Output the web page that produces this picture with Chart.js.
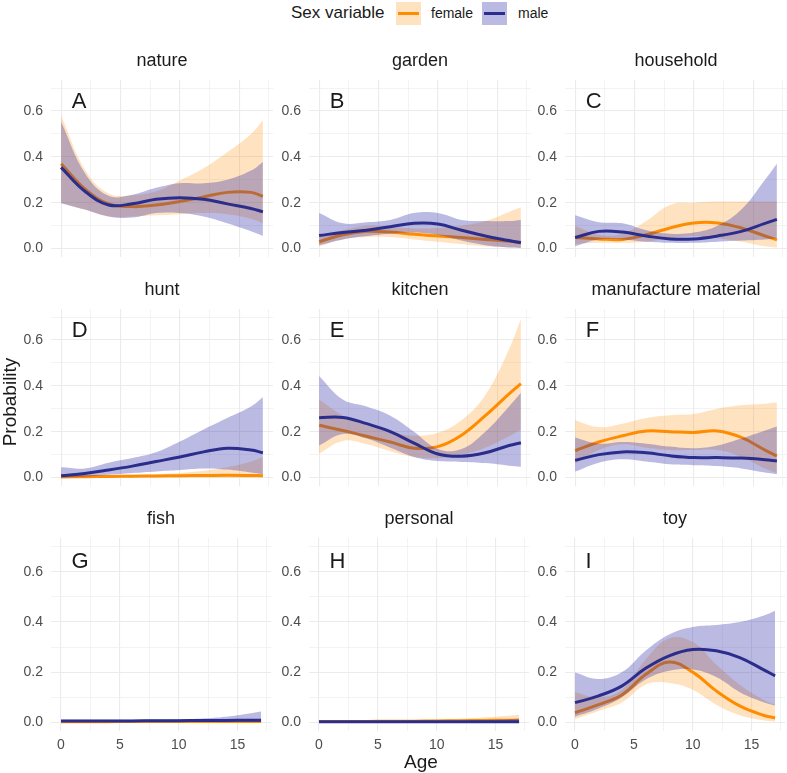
<!DOCTYPE html>
<html>
<head>
<meta charset="utf-8">
<script src="https://cdn.jsdelivr.net/npm/chart.js@4.4.1/dist/chart.umd.min.js"></script>
<style>
body { margin: 0; background: #fff; font-family: "Liberation Sans", Arial, sans-serif; }
#wrap { position: relative; width: 787px; height: 773px; overflow: hidden; }
#wrap canvas { position: absolute; }
.lab { position: absolute; white-space: nowrap; color: #1a1a1a; z-index: 2; }
.key { position: absolute; width: 25px; height: 23px; top: 2px; }
.key i { position: absolute; left: 2px; right: 2px; top: 10px; height: 3px; }
</style>
</head>
<body>
<div id="wrap">
  <div class="lab" style="left:291px;top:3px;font-size:17px;line-height:20px;">Sex variable</div>
  <div class="key" style="left:396px;background:rgba(255,140,0,0.25);"><i style="background:#ff8c00"></i></div>
  <div class="lab" style="left:431px;top:5px;font-size:14px;line-height:16px;">female</div>
  <div class="key" style="left:482px;background:rgba(45,40,165,0.32);"><i style="background:#2b2d8c"></i></div>
  <div class="lab" style="left:518px;top:5px;font-size:14px;line-height:16px;">male</div>
  <div class="lab" style="left:404px;top:751px;font-size:19px;line-height:22px;">Age</div>
  <div class="lab" style="left:-40px;top:391px;width:100px;text-align:center;font-size:19px;line-height:22px;transform:rotate(-90deg);">Probability</div>
</div>
<script>
const ages = [0, 2, 4, 6, 8, 10, 12, 14, 16, 17];

const natureF   = [0.37, 0.26, 0.195, 0.183, 0.19, 0.205, 0.225, 0.245, 0.245, 0.228];
const natureFLo = [0.20, 0.17, 0.14, 0.14, 0.145, 0.15, 0.155, 0.15, 0.13, 0.11];
const natureFHi = [0.58, 0.345, 0.24, 0.233, 0.25, 0.297, 0.35, 0.42, 0.50, 0.56];
const natureM   = [0.354, 0.25, 0.19, 0.195, 0.215, 0.222, 0.215, 0.195, 0.175, 0.16];
const natureMLo = [0.198, 0.17, 0.14, 0.135, 0.155, 0.155, 0.14, 0.11, 0.075, 0.055];
const natureMHi = [0.553, 0.33, 0.23, 0.235, 0.265, 0.285, 0.285, 0.30, 0.34, 0.378];

const gardenF   = [0.03, 0.06, 0.075, 0.072, 0.062, 0.055, 0.048, 0.04, 0.032, 0.028];
const gardenFLo = [0.01, 0.04, 0.05, 0.05, 0.04, 0.03, 0.02, 0.01, 0.005, 0.003];
const gardenFHi = [0.05, 0.08, 0.10, 0.095, 0.088, 0.09, 0.10, 0.12, 0.16, 0.18];
const gardenM   = [0.057, 0.07, 0.08, 0.095, 0.11, 0.107, 0.08, 0.055, 0.035, 0.025];
const gardenMLo = [0.015, 0.04, 0.055, 0.065, 0.07, 0.06, 0.035, 0.015, 0.005, 0.003];
const gardenMHi = [0.155, 0.11, 0.115, 0.125, 0.155, 0.155, 0.125, 0.12, 0.12, 0.125];

const householdF   = [0.048, 0.042, 0.04, 0.06, 0.09, 0.112, 0.112, 0.09, 0.055, 0.038];
const householdFLo = [0.02, 0.025, 0.025, 0.03, 0.045, 0.055, 0.045, 0.03, 0.01, 0.005];
const householdFHi = [0.10, 0.06, 0.065, 0.12, 0.19, 0.20, 0.205, 0.205, 0.205, 0.205];
const householdM   = [0.048, 0.075, 0.072, 0.055, 0.042, 0.042, 0.055, 0.075, 0.11, 0.127];
const householdMLo = [0.01, 0.04, 0.04, 0.03, 0.025, 0.025, 0.03, 0.035, 0.04, 0.045];
const householdMHi = [0.145, 0.115, 0.11, 0.08, 0.065, 0.07, 0.10, 0.17, 0.30, 0.37];

const huntF   = [0.003, 0.004, 0.005, 0.006, 0.007, 0.008, 0.009, 0.01, 0.009, 0.008];
const huntFLo = [0, 0, 0, 0, 0, 0, 0, 0, 0, 0];
const huntFHi = [0.006, 0.008, 0.01, 0.012, 0.015, 0.02, 0.03, 0.045, 0.07, 0.09];
const huntM   = [0.008, 0.018, 0.033, 0.05, 0.07, 0.09, 0.112, 0.128, 0.12, 0.108];
const huntMLo = [0.0, 0.004, 0.012, 0.02, 0.027, 0.033, 0.04, 0.035, 0.022, 0.015];
const huntMHi = [0.045, 0.04, 0.065, 0.085, 0.11, 0.157, 0.21, 0.26, 0.31, 0.35];

const kitchenF   = [0.228, 0.205, 0.18, 0.155, 0.128, 0.135, 0.185, 0.27, 0.365, 0.41];
const kitchenFLo = [0.105, 0.16, 0.145, 0.115, 0.09, 0.085, 0.1, 0.13, 0.18, 0.21];
const kitchenFHi = [0.34, 0.27, 0.23, 0.2, 0.183, 0.195, 0.25, 0.36, 0.56, 0.69];
const kitchenM   = [0.261, 0.262, 0.235, 0.2, 0.15, 0.103, 0.093, 0.108, 0.14, 0.152];
const kitchenMLo = [0.14, 0.19, 0.17, 0.13, 0.09, 0.072, 0.068, 0.063, 0.052, 0.047];
const kitchenMHi = [0.443, 0.34, 0.31, 0.27, 0.2, 0.125, 0.125, 0.2, 0.31, 0.37];

const manufactureF   = [0.117, 0.155, 0.182, 0.203, 0.2, 0.197, 0.203, 0.175, 0.12, 0.094];
const manufactureFLo = [0.06, 0.12, 0.145, 0.13, 0.12, 0.12, 0.12, 0.09, 0.04, 0.02];
const manufactureFHi = [0.25, 0.22, 0.235, 0.26, 0.272, 0.277, 0.3, 0.315, 0.322, 0.327];
const manufactureM   = [0.075, 0.1, 0.112, 0.108, 0.095, 0.087, 0.087, 0.085, 0.078, 0.072];
const manufactureMLo = [0.026, 0.065, 0.08, 0.07, 0.058, 0.054, 0.05, 0.04, 0.022, 0.015];
const manufactureMHi = [0.175, 0.148, 0.155, 0.148, 0.135, 0.128, 0.14, 0.17, 0.205, 0.223];

const fishF   = [0.002, 0.002, 0.002, 0.003, 0.003, 0.003, 0.003, 0.003, 0.003, 0.003];
const fishFLo = [0, 0, 0, 0, 0, 0, 0, 0, 0, 0];
const fishFHi = [0.005, 0.005, 0.005, 0.006, 0.006, 0.007, 0.008, 0.009, 0.011, 0.012];
const fishM   = [0.005, 0.005, 0.005, 0.005, 0.006, 0.006, 0.007, 0.007, 0.008, 0.008];
const fishMLo = [0.001, 0.001, 0.001, 0.001, 0.001, 0.001, 0.001, 0.001, 0.001, 0.001];
const fishMHi = [0.01, 0.01, 0.01, 0.01, 0.011, 0.012, 0.015, 0.022, 0.035, 0.043];

const personalF   = [0.003, 0.003, 0.003, 0.004, 0.004, 0.005, 0.006, 0.007, 0.008, 0.008];
const personalFLo = [0, 0, 0, 0, 0, 0, 0, 0, 0, 0];
const personalFHi = [0.006, 0.006, 0.007, 0.008, 0.009, 0.011, 0.014, 0.019, 0.026, 0.03];
const personalM   = [0.002, 0.002, 0.002, 0.002, 0.002, 0.002, 0.002, 0.002, 0.002, 0.002];
const personalMLo = [0, 0, 0, 0, 0, 0, 0, 0, 0, 0];
const personalMHi = [0.005, 0.005, 0.005, 0.005, 0.006, 0.006, 0.007, 0.009, 0.012, 0.015];

const toyF   = [0.038, 0.07, 0.11, 0.19, 0.24, 0.2, 0.125, 0.065, 0.028, 0.017];
const toyFLo = [0.012, 0.045, 0.08, 0.15, 0.157, 0.13, 0.07, 0.028, 0.008, 0.003];
const toyFHi = [0.12, 0.1, 0.13, 0.25, 0.335, 0.32, 0.23, 0.15, 0.09, 0.07];
const toyM   = [0.078, 0.105, 0.145, 0.215, 0.265, 0.29, 0.285, 0.258, 0.21, 0.185];
const toyMLo = [0.022, 0.055, 0.1, 0.17, 0.205, 0.21, 0.18, 0.12, 0.08, 0.067];
const toyMHi = [0.198, 0.172, 0.2, 0.285, 0.35, 0.38, 0.388, 0.4, 0.425, 0.445];

const xTicks = [0, 2.5, 5, 7.5, 10, 12.5, 15, 17.5];
const yTicks = [0, 0.1, 0.2, 0.3, 0.4, 0.5, 0.6, 0.7];

const panels = [
    { title: 'nature', letter: 'A', f: natureF, fLo: natureFLo, fHi: natureFHi, m: natureM, mLo: natureMLo, mHi: natureMHi },
    { title: 'garden', letter: 'B', f: gardenF, fLo: gardenFLo, fHi: gardenFHi, m: gardenM, mLo: gardenMLo, mHi: gardenMHi },
    { title: 'household', letter: 'C', f: householdF, fLo: householdFLo, fHi: householdFHi, m: householdM, mLo: householdMLo, mHi: householdMHi },
    { title: 'hunt', letter: 'D', f: huntF, fLo: huntFLo, fHi: huntFHi, m: huntM, mLo: huntMLo, mHi: huntMHi },
    { title: 'kitchen', letter: 'E', f: kitchenF, fLo: kitchenFLo, fHi: kitchenFHi, m: kitchenM, mLo: kitchenMLo, mHi: kitchenMHi },
    { title: 'manufacture material', letter: 'F', f: manufactureF, fLo: manufactureFLo, fHi: manufactureFHi, m: manufactureM, mLo: manufactureMLo, mHi: manufactureMHi },
    { title: 'fish', letter: 'G', f: fishF, fLo: fishFLo, fHi: fishFHi, m: fishM, mLo: fishMLo, mHi: fishMHi },
    { title: 'personal', letter: 'H', f: personalF, fLo: personalFLo, fHi: personalFHi, m: personalM, mLo: personalMLo, mHi: personalMHi },
    { title: 'toy', letter: 'I', f: toyF, fLo: toyFLo, fHi: toyFHi, m: toyM, mLo: toyMLo, mHi: toyMHi }
];

const femaleColor = '#ff8c00';
const femaleFill = 'rgba(255, 140, 0, 0.25)';
const maleColor = '#2b2d8c';
const maleFill = 'rgba(45, 40, 165, 0.32)';
const fontFamily = '"Liberation Sans", Arial, sans-serif';

const panelLeft = [51, 309, 565];
const panelTop = [80, 309, 538];
const panelW = 222;
const panelH = 193;
const yAxisW = 42;
const titleH = 30;

const letterPlugin = {
    id: 'panelLetter',
    afterDatasetsDraw(chart, args, opts) {
        const ctx = chart.ctx;
        ctx.save();
        ctx.font = '22px ' + fontFamily;
        ctx.fillStyle = '#1a1a1a';
        ctx.textAlign = 'left';
        ctx.textBaseline = 'middle';
        ctx.fillText(opts.text, chart.scales.x.getPixelForValue(0.9), chart.scales.y.getPixelForValue(0.64));
        ctx.restore();
    }
};

function points(values) {
    return ages.map((a, i) => ({ x: a, y: values[i] }));
}

function edge(values, order) {
    return { data: points(values), borderWidth: 0, borderColor: 'transparent', pointRadius: 0, fill: false, order: order, tension: 0.4 };
}

function band(values, color, order) {
    return { data: points(values), borderWidth: 0, borderColor: 'transparent', pointRadius: 0, fill: '-1', backgroundColor: color, order: order, tension: 0.4 };
}

function curve(values, color, order) {
    return { data: points(values), borderWidth: 3, borderColor: color, pointRadius: 0, fill: false, order: order, tension: 0.4 };
}

const wrap = document.getElementById('wrap');

panels.forEach((p, i) => {
    const col = i % 3;
    const row = Math.floor(i / 3);
    const bottomRow = row === 2;
    const xAxisH = bottomRow ? 34 : 0;

    const canvas = document.createElement('canvas');
    canvas.width = yAxisW + panelW;
    canvas.height = titleH + panelH + xAxisH;
    canvas.style.left = (panelLeft[col] - yAxisW) + 'px';
    canvas.style.top = (panelTop[row] - titleH) + 'px';
    wrap.appendChild(canvas);

    new Chart(canvas, {
        type: 'line',
        data: {
            datasets: [
                edge(p.fLo, 4),
                band(p.fHi, femaleFill, 4),
                curve(p.f, femaleColor, 3),
                edge(p.mLo, 2),
                band(p.mHi, maleFill, 2),
                curve(p.m, maleColor, 1)
            ]
        },
        options: {
            responsive: false,
            animation: false,
            events: [],
            layout: { autoPadding: false, padding: 0 },
            plugins: {
                legend: { display: false },
                tooltip: { enabled: false },
                title: {
                    display: true,
                    text: p.title,
                    fullSize: false,
                    color: '#1a1a1a',
                    font: { family: fontFamily, size: 18, weight: 'normal' },
                    padding: { top: 0, bottom: 8.4 }
                },
                panelLetter: { text: p.letter }
            },
            scales: {
                x: {
                    type: 'linear',
                    min: -0.85,
                    max: 17.85,
                    afterBuildTicks: axis => { axis.ticks = xTicks.map(v => ({ value: v })); },
                    afterFit: axis => { axis.height = xAxisH; },
                    border: { display: false },
                    grid: {
                        color: '#ebebeb',
                        drawTicks: false,
                        lineWidth: ctx => (ctx.tick && ctx.tick.value % 5 === 0) ? 1.1 : 0.6
                    },
                    ticks: {
                        display: bottomRow,
                        autoSkip: false,
                        maxRotation: 0,
                        padding: 6,
                        color: '#4d4d4d',
                        font: { family: fontFamily, size: 14 },
                        callback: v => v % 5 === 0 ? String(v) : ''
                    }
                },
                y: {
                    min: -0.035,
                    max: 0.735,
                    afterBuildTicks: axis => { axis.ticks = yTicks.map(v => ({ value: v })); },
                    afterFit: axis => { axis.width = yAxisW; },
                    border: { display: false },
                    grid: {
                        color: '#ebebeb',
                        drawTicks: false,
                        lineWidth: ctx => (ctx.tick && Math.round(ctx.tick.value * 10) % 2 === 0) ? 1.1 : 0.6
                    },
                    ticks: {
                        autoSkip: false,
                        padding: 8,
                        color: '#4d4d4d',
                        font: { family: fontFamily, size: 14 },
                        callback: v => Math.round(v * 10) % 2 === 0 ? v.toFixed(1) : ''
                    }
                }
            }
        },
        plugins: [letterPlugin]
    });
});
</script>
</body>
</html>
